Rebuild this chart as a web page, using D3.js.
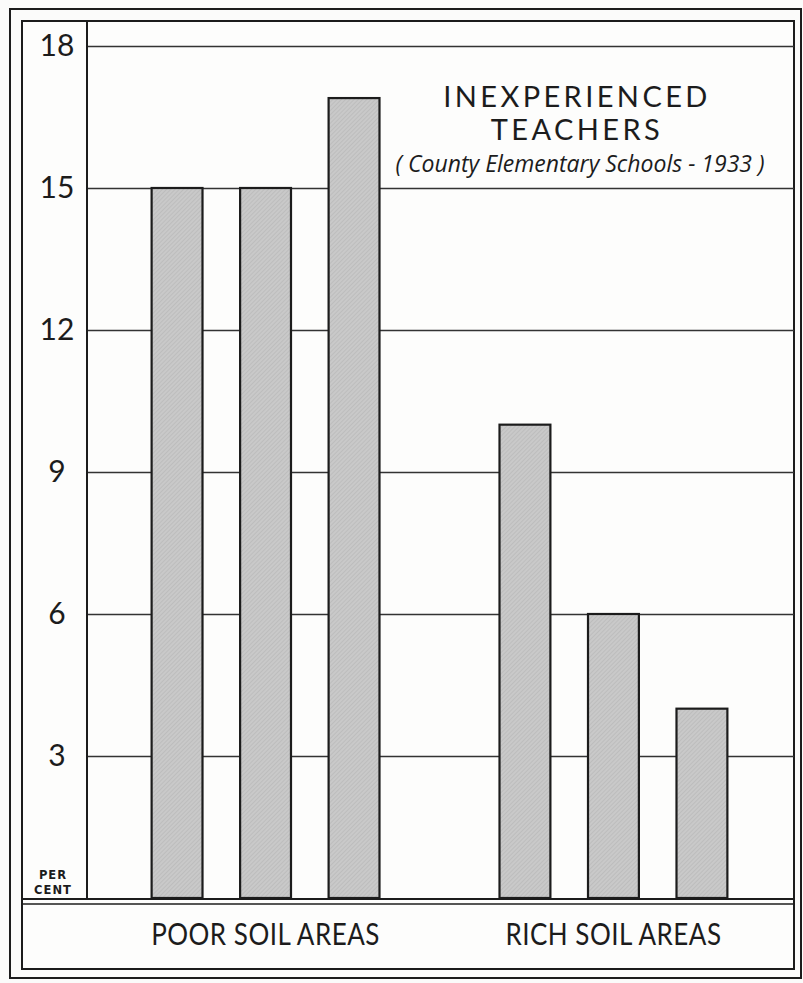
<!DOCTYPE html>
<html>
<head>
<meta charset="utf-8">
<script src="https://cdn.jsdelivr.net/npm/d3@7"></script>
<style>
  html, body { margin: 0; padding: 0; background: #fbfbfa; }
  svg { display: block; }
</style>
</head>
<body>
<svg id="chart" width="803" height="983"></svg>
<script>
// ---- data ----
const groups = ["POOR SOIL AREAS", "RICH SOIL AREAS"];
const poorValues = [15, 15, 16.9];
const richValues = [10, 6, 4];
const barKeys = ["a", "b", "c"];
const yTicks = [3, 6, 9, 12, 15, 18];
const titleLines = ["INEXPERIENCED", "TEACHERS"];
const subtitle = "( County Elementary Schools - 1933 )";
const unitLabel = ["PER", "CENT"];

const seriesByGroup = [poorValues, richValues];

const svg = d3.select("#chart");
const ink = "#1c1c1c";

// hatch pattern for bars
const defs = svg.append("defs");
const pat = defs.append("pattern")
  .attr("id", "hatch").attr("patternUnits", "userSpaceOnUse")
  .attr("width", 3).attr("height", 3)
  .attr("patternTransform", "rotate(45)");
pat.append("rect").attr("width", 3).attr("height", 3).attr("fill", "#c9c9c9");
pat.append("line").attr("x1", 0).attr("y1", 0).attr("x2", 0).attr("y2", 3)
  .attr("stroke", "#b2b2b2").attr("stroke-width", 1);

// frames
svg.append("rect").attr("x", 10).attr("y", 9).attr("width", 791).attr("height", 969)
  .attr("fill", "none").attr("stroke", ink).attr("stroke-width", 2);
svg.append("rect").attr("x", 22).attr("y", 21).attr("width", 772).attr("height", 948)
  .attr("fill", "#fdfdfc").attr("stroke", ink).attr("stroke-width", 2);

// scales
const plotLeft = 87, plotRight = 794;
const y = d3.scaleLinear().domain([0, 18]).range([898, 46]);
const x0 = d3.scaleBand().domain(groups).range([89, 790])
  .paddingInner(0.345).paddingOuter(0.18);
const x1 = d3.scaleBand().domain(barKeys).range([0, x0.bandwidth()])
  .paddingInner(0.425).paddingOuter(0);

// gridlines via axis
const grid = svg.append("g").attr("transform", `translate(${plotLeft},0)`)
  .call(d3.axisRight(y).tickValues(yTicks).tickSize(plotRight - plotLeft).tickFormat(""));
grid.select(".domain").remove();
grid.selectAll("line").attr("stroke", "#333").attr("stroke-width", 1.6);

// y labels via axis
const yAxis = svg.append("g").attr("transform", `translate(57,0)`)
  .call(d3.axisLeft(y).tickValues(yTicks).tickSize(0).tickPadding(0));
yAxis.select(".domain").remove();
yAxis.selectAll("text")
  .attr("text-anchor", "middle")
  .attr("font-family", "Lato, 'DejaVu Sans', sans-serif")
  .attr("font-size", 30)
  .attr("fill", ink);

// vertical axis line
svg.append("line").attr("x1", plotLeft).attr("x2", plotLeft)
  .attr("y1", 21).attr("y2", y(0))
  .attr("stroke", ink).attr("stroke-width", 2);

// bars
const gGroups = svg.append("g").selectAll("g").data(groups).join("g")
  .attr("transform", d => `translate(${x0(d)},0)`);
gGroups.selectAll("rect")
  .data((d, i) => seriesByGroup[i].map((v, j) => ({ key: barKeys[j], value: v })))
  .join("rect")
  .attr("x", d => x1(d.key))
  .attr("width", x1.bandwidth())
  .attr("y", d => y(d.value))
  .attr("height", d => y(0) - y(d.value))
  .attr("fill", "url(#hatch)")
  .attr("stroke", ink).attr("stroke-width", 2.2);

// baseline double line
svg.append("line").attr("x1", 22).attr("x2", plotRight).attr("y1", y(0) + 1).attr("y2", y(0) + 1)
  .attr("stroke", ink).attr("stroke-width", 2);
svg.append("line").attr("x1", 22).attr("x2", plotRight).attr("y1", y(0) + 6).attr("y2", y(0) + 6)
  .attr("stroke", ink).attr("stroke-width", 1.6);

// group labels
svg.append("g").selectAll("text").data(groups).join("text")
  .attr("transform", d => `translate(${x0(d) + x0.bandwidth() / 2},945) scale(1,1.22)`)
  .attr("text-anchor", "middle")
  .attr("font-family", "Lato, 'DejaVu Sans', sans-serif")
  .attr("font-size", 26)
  .attr("letter-spacing", 0.5)
  .attr("fill", ink)
  .text(d => d);

// PER CENT
svg.append("g").selectAll("text").data(unitLabel).join("text")
  .attr("x", 53)
  .attr("y", (d, i) => 879 + i * 15)
  .attr("text-anchor", "middle")
  .attr("font-family", "'DejaVu Sans', sans-serif")
  .attr("font-weight", "bold")
  .attr("font-size", 11.5)
  .attr("letter-spacing", 1)
  .attr("fill", ink)
  .text(d => d);

// title
svg.append("g").selectAll("text").data(titleLines).join("text")
  .attr("x", 577)
  .attr("y", (d, i) => 107 + i * 33)
  .attr("text-anchor", "middle")
  .attr("font-family", "Lato, 'DejaVu Sans', sans-serif")
  .attr("font-size", 29)
  .attr("letter-spacing", 3.4)
  .attr("fill", ink)
  .text(d => d);

svg.append("text")
  .attr("x", 580).attr("y", 172)
  .attr("text-anchor", "middle")
  .attr("font-family", "'Open Sans', sans-serif")
  .attr("font-style", "italic")
  .attr("font-size", 23)
  .attr("fill", ink)
  .text(subtitle);
</script>
</body>
</html>
